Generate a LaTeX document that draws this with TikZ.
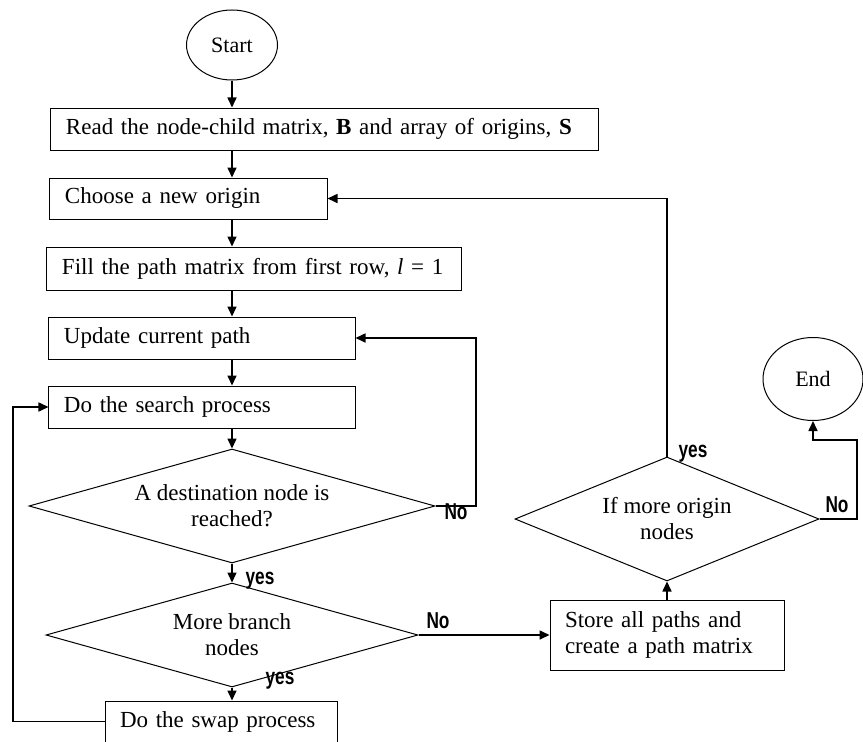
\documentclass[tikz,border=0pt]{standalone}
\usepackage{fontspec}
\setmainfont{Liberation Serif}
\newfontfamily\lblfont{Liberation Sans}
\usetikzlibrary{shapes.geometric,arrows.meta,calc}
\begin{document}
\begin{tikzpicture}[x=1bp,y=1bp,
  proc/.style={draw, line width=1bp, rectangle, inner xsep=15bp, inner ysep=0pt,
    minimum height=42bp, align=left, font=\fontsize{23bp}{26bp}\selectfont},
  term/.style={draw, ellipse, line width=1bp, inner sep=0pt,
    font=\fontsize{22bp}{24bp}\selectfont},
  dec/.style={draw, diamond, line width=1bp, inner sep=0pt, align=center,
    font=\fontsize{23bp}{26bp}\selectfont},
  conn/.style={line width=1.6bp, -{Triangle[length=10bp,width=9bp]}},
  lbl/.style={inner sep=0pt, font=\lblfont\bfseries\fontsize{23bp}{25bp}\selectfont}
]
\useasboundingbox (0,0) rectangle (863,-742);

\node[term, minimum width=91bp, minimum height=70bp] (start) at (232,-45) {Start};
\node[proc, text width=517bp] (read) at (324.5,-129)
  {\mbox{Read the node-child matrix, \textbf{B} and array of origins, \textbf{S}}};
\node[proc, text width=247bp, minimum height=41bp] (choose) at (188.5,-198.5) {\mbox{Choose a new origin}};
\node[proc, text width=384bp, minimum height=43bp] (fill) at (254,-268.5)
  {\mbox{Fill the path matrix from first row, \textit{l} = 1}};
\node[proc, text width=276bp] (update) at (202,-338) {\mbox{Update current path}};
\node[proc, text width=276bp] (search) at (202,-407) {\mbox{Do the search process}};
\node[dec, shape aspect=3.56, minimum width=406bp, minimum height=114bp] (d1) at (232,-506)
  {A destination node is\\reached?};
\node[dec, shape aspect=3.58, minimum width=372bp, minimum height=104bp] (d2) at (232,-635)
  {More branch\\nodes};
\node[proc, text width=202bp, minimum height=41bp] (swap) at (221,-721.5) {\mbox{Do the swap process}};
\node[proc, text width=204bp, minimum height=70bp] (store) at (667,-635)
  {Store all paths and\\create a path matrix};
\node[dec, shape aspect=2.44, minimum width=304bp, minimum height=124bp] (d3) at (667,-519)
  {If more origin\\nodes};
\node[term, minimum width=100bp, minimum height=83bp] (end) at (813,-379) {End};

\coordinate (nR) at (476,-505);
\coordinate (sL) at (13,-722);
\coordinate (eR) at (857,-440);

\draw[conn] (start.south) -- (start.south |- read.north);
\draw[conn] (read.south -| start) -- (choose.north -| start);
\draw[conn] (choose.south -| start) -- (fill.north -| start);
\draw[conn] (fill.south -| start) -- (update.north -| start);
\draw[conn] (update.south -| start) -- (search.north -| start);
\draw[conn] (search.south -| start) -- (d1.north);
\draw[conn] (d1.south) -- (d2.north);
\draw[conn] (d2.south) -- (d2.south |- swap.north);
\draw[conn] (d1.east) -- (d1.east -| nR) -- (nR |- update.east) -- (update.east);
\draw[conn] (swap.west) -- (swap.west -| sL) -- (sL |- search.west) -- (search.west);
\draw[conn] (d2.east) -- (store.west);
\draw[conn] (store.north) -- (d3.south);
\draw[conn] (d3.north) -- (d3.north |- choose.east) -- (choose.east);
\draw[conn] (d3.east) -- (d3.east -| eR) -- (eR) -- (eR -| end.south) -- (end.south);

\node[lbl] (l1) at (456,-512) {\scalebox{0.75}[1]{No}};
\node[lbl] (l2) at (260,-581) {\scalebox{0.75}[1]{yes}};
\node[lbl] (l3) at (438,-621) {\scalebox{0.75}[1]{No}};
\node[lbl] (l4) at (280,-681) {\scalebox{0.75}[1]{yes}};
\node[lbl] (l5) at (693,-454) {\scalebox{0.75}[1]{yes}};
\node[lbl] (l6) at (837,-505) {\scalebox{0.75}[1]{No}};
\end{tikzpicture}
\end{document}
